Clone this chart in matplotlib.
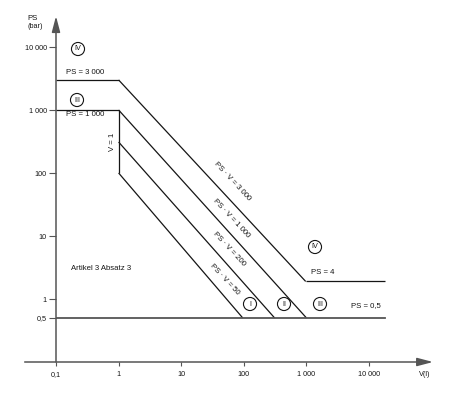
import matplotlib
matplotlib.use('Agg')
import matplotlib.pyplot as plt
import numpy as np

plt.rcParams['font.family'] = ['Liberation Sans', 'DejaVu Sans']

# tick values and labels
x_ticks = [0.1, 1, 10, 100, 1000, 10000]
x_labels = ['0,1', '1', '10', '100', '1 000', '10 000']
y_ticks = [0.5, 1, 10, 100, 1000, 10000]
y_labels = ['0,5', '1', '10', '100', '1 000', '10 000']

# limit lines (V in litres, PS in bar)
top3000_v = [0.1, 1]
top3000_ps = [3000, 3000]
diag3000_v = [1, 970]
diag3000_ps = [3000, 1.9]
ps4_v = [970, 18000]
ps4_ps = [1.9, 1.9]
top1000_v = [0.1, 1]
top1000_ps = [1000, 1000]
v1_v = [1, 1]
v1_ps = [1000, 100]
diag1000_v = [1, 1000]
diag1000_ps = [1000, 0.5]
diag200_v = [1, 310]
diag200_ps = [310, 0.5]
diag50_v = [1, 96]
diag50_ps = [100, 0.5]
ps05_v = [0.1, 18000]
ps05_ps = [0.5, 0.5]

W, H = 451, 399
fig = plt.figure(figsize=(W / 100, H / 100), dpi=100)
ax = fig.add_axes([56 / W, 1 - 362 / H, 377 / W, 347 / H])
ax.set_xscale('log')
ax.set_yscale('log')
ax.set_xlim(0.1, 10 ** 5.02)
ax.set_ylim(0.1, 10 ** 4.508)
for s in ax.spines.values():
    s.set_visible(False)

lc = '#151515'
lw = 0.9
for v, p in [(top3000_v, top3000_ps), (diag3000_v, diag3000_ps), (ps4_v, ps4_ps),
             (top1000_v, top1000_ps), (v1_v, v1_ps), (diag1000_v, diag1000_ps),
             (diag200_v, diag200_ps), (diag50_v, diag50_ps)]:
    ax.plot(v, p, color=lc, lw=lw, solid_capstyle='butt')
ax.plot(ps05_v, ps05_ps, color='#555555', lw=1.3)

# axes with arrows
ac = '#555555'
arr = dict(arrowstyle='-|>,head_length=0.95,head_width=0.25', color=ac, lw=1.1,
           shrinkA=0, shrinkB=0, mutation_scale=10)
ax.annotate('', xy=(10 ** 5.02, 0.1), xytext=(10 ** -1.5, 0.1), arrowprops=arr,
            annotation_clip=False)
ax.annotate('', xy=(0.1, 10 ** 4.49), xytext=(0.1, 0.1), arrowprops=arr,
            annotation_clip=False)

ax.set_xticks(x_ticks)
ax.set_xticklabels(x_labels)
ax.set_yticks(y_ticks)
ax.set_yticklabels(y_labels)
ax.minorticks_off()
ax.tick_params(axis='x', direction='out', length=3, width=0.8, color=ac,
               labelsize=5.2, pad=3.5, labelcolor='#151515')
ax.tick_params(axis='y', direction='out', length=5, width=0.8, color=ac,
               labelsize=5.2, pad=1.5, labelcolor='#151515')


def fp(x, y):
    return x / W, 1 - y / H


def txt(x, y, s, size=5.6, rot=0, **kw):
    fig.text(*fp(x, y), s, fontsize=size, rotation=rot, ha='center', va='center',
             rotation_mode='anchor', color='#151515', **kw)


def circ(x, y, s):
    txt(x, y, s, size=5.2, bbox=dict(boxstyle='circle,pad=0.42', fc='white',
                                     ec='#151515', lw=0.8))


txt(33, 18, 'PS', size=5.6)
txt(35, 26, '(bar)', size=5.2)
circ(78, 49, 'IV')
circ(77, 100, 'III')
txt(85, 72, 'PS = 3 000')
txt(85, 115, 'PS = 1 000')
txt(112, 142, 'V = 1', rot=90)
txt(101, 268, 'Artikel 3 Absatz 3')
txt(232, 181, 'PS · V = 3 000', rot=-47)
txt(231, 218, 'PS · V = 1 000', rot=-47)
txt(229, 249, 'PS · V = 200', rot=-47)
txt(225, 279, 'PS · V = 50', rot=-47)
circ(250, 304, 'I')
circ(284, 304, 'II')
circ(320, 304, 'III')
circ(315, 247, 'IV')
txt(323, 273, 'PS = 4')
txt(366, 306, 'PS = 0,5')
txt(425, 375, 'V(l)', size=5.2)

fig.savefig('out.png', dpi=100, facecolor='white')
